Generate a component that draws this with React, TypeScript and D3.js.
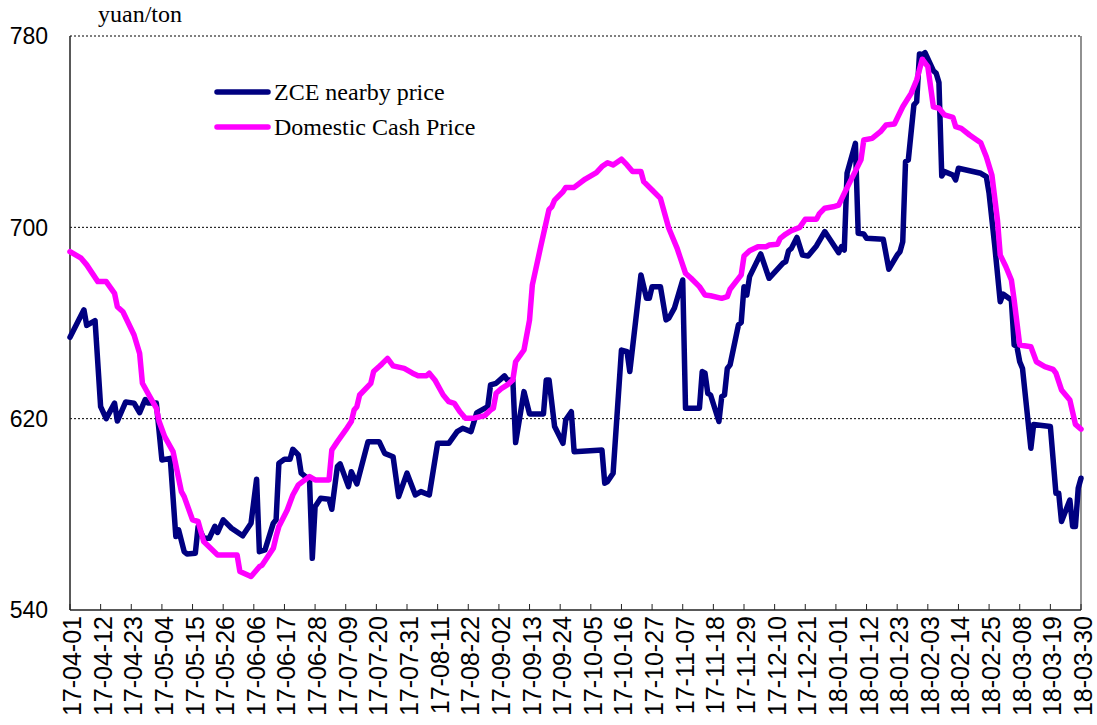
import React from "react";
import * as d3 from "d3";

const seriesNames = ["ZCE nearby price", "Domestic Cash Price"];
const unitLabel = "yuan/ton";
const yTicks = [540, 620, 700, 780];
const xTickLabels = [
  "17-04-01", "17-04-12", "17-04-23", "17-05-04", "17-05-15", "17-05-26", "17-06-06", "17-06-17",
  "17-06-28", "17-07-09", "17-07-20", "17-07-31", "17-08-11", "17-08-22", "17-09-02", "17-09-13",
  "17-09-24", "17-10-05", "17-10-16", "17-10-27", "17-11-07", "17-11-18", "17-11-29", "17-12-10",
  "17-12-21", "18-01-01", "18-01-12", "18-01-23", "18-02-03", "18-02-14", "18-02-25", "18-03-08",
  "18-03-19", "18-03-30",
];

const zceDates = [
  "2017-04-01","2017-04-06","2017-04-07","2017-04-10","2017-04-12","2017-04-14","2017-04-17","2017-04-18",
  "2017-04-21","2017-04-24","2017-04-26","2017-04-28","2017-04-29","2017-05-02","2017-05-04","2017-05-07",
  "2017-05-09","2017-05-10","2017-05-12","2017-05-13","2017-05-16","2017-05-17","2017-05-19","2017-05-21",
  "2017-05-23","2017-05-24","2017-05-26","2017-05-29","2017-06-02","2017-06-05","2017-06-07","2017-06-08",
  "2017-06-10","2017-06-13","2017-06-14","2017-06-15","2017-06-17","2017-06-19","2017-06-20","2017-06-22",
  "2017-06-23","2017-06-26","2017-06-27","2017-06-28","2017-06-30","2017-07-03","2017-07-04","2017-07-06",
  "2017-07-07","2017-07-10","2017-07-11","2017-07-13","2017-07-17","2017-07-21","2017-07-23","2017-07-26",
  "2017-07-28","2017-07-31","2017-08-03","2017-08-05","2017-08-08","2017-08-11","2017-08-15","2017-08-18",
  "2017-08-20","2017-08-23","2017-08-25","2017-08-29","2017-08-30","2017-09-01","2017-09-04","2017-09-05",
  "2017-09-07","2017-09-08","2017-09-11","2017-09-13","2017-09-18","2017-09-19","2017-09-20","2017-09-22",
  "2017-09-25","2017-09-26","2017-09-28","2017-09-29","2017-10-09","2017-10-10","2017-10-11","2017-10-13",
  "2017-10-16","2017-10-18","2017-10-19","2017-10-23","2017-10-25","2017-10-26","2017-10-27","2017-10-30",
  "2017-11-01","2017-11-02","2017-11-04","2017-11-07","2017-11-08","2017-11-13","2017-11-14","2017-11-15",
  "2017-11-16","2017-11-17","2017-11-20","2017-11-21","2017-11-22","2017-11-23","2017-11-24","2017-11-27",
  "2017-11-28","2017-11-29","2017-11-30","2017-12-01","2017-12-05","2017-12-08","2017-12-13","2017-12-14",
  "2017-12-15","2017-12-16","2017-12-18","2017-12-20","2017-12-22","2017-12-25","2017-12-28","2017-12-30",
  "2018-01-02","2018-01-03","2018-01-04","2018-01-05","2018-01-06","2018-01-08","2018-01-09","2018-01-11",
  "2018-01-12","2018-01-18","2018-01-20","2018-01-23","2018-01-24","2018-01-25","2018-01-26","2018-01-27",
  "2018-01-29","2018-01-30","2018-01-31","2018-02-01","2018-02-02","2018-02-05","2018-02-06","2018-02-07",
  "2018-02-08","2018-02-09","2018-02-12","2018-02-13","2018-02-14","2018-02-22","2018-02-24","2018-02-25",
  "2018-02-27","2018-03-01","2018-03-02","2018-03-05","2018-03-06","2018-03-07","2018-03-08","2018-03-09",
  "2018-03-12","2018-03-13","2018-03-19","2018-03-21","2018-03-22","2018-03-23","2018-03-26","2018-03-27",
  "2018-03-28","2018-03-29","2018-03-30",
];
const zcePrices = [
  654, 665.5, 659, 661, 625, 620, 626.5, 619,
  627, 626.5, 622.5, 628, 626.5, 626.5, 602.7, 603.4,
  570.7, 573.5, 564.4, 563.4, 563.7, 574.9, 570, 570,
  575, 572.4, 577.7, 574.2, 571, 576.3, 594.7, 564.4,
  565.1, 576.3, 577.7, 601.4, 603, 603, 607.2, 604.8,
  597.2, 594.4, 561.6, 583.2, 586.7, 586.3, 582.1, 600,
  601.1, 591.6, 597.8, 592.7, 610.4, 610.4, 605.5, 604.1,
  587.4, 597.2, 588.1, 589.5, 588.1, 609.7, 609.7, 614.6,
  616, 614.6, 622.4, 625, 634.1, 634.8, 637.9, 636.2,
  636.2, 610, 631.3, 622, 622, 636.2, 636.2, 616.7,
  609.7, 619.5, 622.9, 606.2, 606.9, 593, 593.7, 597.2,
  648.7, 648, 639.7, 680.1, 670.3, 670.3, 675.2, 675.2,
  661.3, 662, 666.2, 678, 624.4, 624.4, 639.7, 639,
  630.6, 629.9, 618.8, 629.2, 629.9, 641, 642.5, 659.2,
  660.2, 675.2, 671.7, 679.4, 688.9, 678.7, 685, 685.7,
  690.2, 691.2, 695.8, 688.4, 688, 692.2, 698.2, 694.7,
  689.4, 691.9, 690.5, 722.6, 726.8, 735.1, 697.5, 697.2,
  695.4, 695, 682.5, 688.4, 689.8, 694, 727.5, 728.2,
  751.2, 752.5, 772.5, 772.1, 773, 765.5, 764.4, 760.5,
  721.5, 723.3, 721.9, 719.8, 724.7, 722.6, 721.2, 714.2,
  692.6, 668.9, 672.1, 669.6, 650.8, 650.1, 643.8, 641,
  607.6, 617.6, 616.7, 588.8, 588.8, 577, 586, 574.9,
  574.9, 590.9, 595.1,
];

const cashDates = [
  "2017-04-01","2017-04-05","2017-04-07","2017-04-11","2017-04-14","2017-04-17","2017-04-18","2017-04-20",
  "2017-04-24","2017-04-26","2017-04-27","2017-04-30","2017-05-02","2017-05-03","2017-05-05","2017-05-08",
  "2017-05-11","2017-05-12","2017-05-15","2017-05-17","2017-05-19","2017-05-24","2017-05-31","2017-06-01",
  "2017-06-05","2017-06-08","2017-06-09","2017-06-13","2017-06-14","2017-06-15","2017-06-18","2017-06-20",
  "2017-06-22","2017-06-24","2017-06-26","2017-06-28","2017-07-03","2017-07-04","2017-07-06","2017-07-09",
  "2017-07-11","2017-07-12","2017-07-13","2017-07-14","2017-07-18","2017-07-19","2017-07-21","2017-07-22",
  "2017-07-24","2017-07-26","2017-07-30","2017-08-02","2017-08-04","2017-08-07","2017-08-08","2017-08-10",
  "2017-08-13","2017-08-15","2017-08-17","2017-08-19","2017-08-21","2017-08-24","2017-08-28","2017-08-30",
  "2017-08-31","2017-09-01","2017-09-03","2017-09-05","2017-09-07","2017-09-08","2017-09-11","2017-09-13",
  "2017-09-14","2017-09-17","2017-09-20","2017-09-21","2017-09-22","2017-09-25","2017-09-26","2017-09-29",
  "2017-10-03","2017-10-07","2017-10-09","2017-10-11","2017-10-13","2017-10-16","2017-10-18","2017-10-20",
  "2017-10-23","2017-10-24","2017-10-27","2017-10-30","2017-11-02","2017-11-05","2017-11-06","2017-11-08",
  "2017-11-10","2017-11-13","2017-11-15","2017-11-17","2017-11-21","2017-11-23","2017-11-24","2017-11-28",
  "2017-11-29","2017-12-01","2017-12-04","2017-12-07","2017-12-08","2017-12-11","2017-12-12","2017-12-14",
  "2017-12-16","2017-12-19","2017-12-21","2017-12-25","2017-12-26","2017-12-28","2017-12-31","2018-01-02",
  "2018-01-04","2018-01-07","2018-01-10","2018-01-11","2018-01-14","2018-01-17","2018-01-19","2018-01-22",
  "2018-01-25","2018-01-28","2018-01-30","2018-02-01","2018-02-03","2018-02-05","2018-02-07","2018-02-09",
  "2018-02-12","2018-02-13","2018-02-15","2018-02-18","2018-02-22","2018-02-24","2018-02-26","2018-02-28",
  "2018-03-01","2018-03-03","2018-03-05","2018-03-06","2018-03-08","2018-03-12","2018-03-14","2018-03-17",
  "2018-03-20","2018-03-21","2018-03-23","2018-03-26","2018-03-28","2018-03-30",
];
const cashPrices = [
  689.8, 687.1, 684.3, 677.3, 677.3, 672.4, 666.8, 664.7,
  655, 647.3, 634.8, 628.5, 624.4, 618.8, 612.5, 606.2,
  589.5, 587.4, 577.7, 577, 568.6, 563, 563, 556.1,
  554, 558.1, 558.8, 565.8, 570.7, 574.9, 581.8, 588.1,
  592.3, 594.1, 595.8, 594.4, 594.4, 606.9, 610.4, 615.3,
  618.8, 623.6, 625, 629.9, 634.8, 639.7, 641.8, 642.9,
  645.2, 642.1, 641, 639, 637.9, 637.9, 639, 636.2,
  629.9, 627.1, 626.4, 622.9, 620.2, 620.2, 621.3, 623.6,
  624.4, 630.6, 632.7, 634.1, 636.2, 643.8, 648.7, 661.3,
  675.9, 691.9, 707.5, 708.6, 711.4, 714.9, 716.7, 716.7,
  720.2, 722.9, 725.4, 727, 726.1, 728.5, 726.1, 723.3,
  723.3, 719.1, 715.6, 712.1, 699.6, 691.2, 687.7, 680.8,
  678.7, 675.2, 671.7, 671.4, 670.3, 671, 674.1, 680.1,
  688, 690.2, 691.9, 691.9, 692.6, 692.9, 695.4, 697.2,
  698.6, 700, 703.4, 703.4, 705.6, 708, 708.6, 709.3,
  714.2, 721.2, 728.2, 736.5, 737.2, 740, 742.8, 743.2,
  750.4, 756, 761.6, 770.3, 767.2, 750.4, 749.8, 747,
  746, 742.1, 741.4, 738.6, 735.4, 729.5, 721.9, 703.1,
  688.4, 683.6, 678, 669.6, 650.8, 650.1, 643.8, 641.8,
  640.6, 639, 632, 627.8, 617.6, 615.6,
];

const W = 1097;
const H = 725;
const plot = { left: 70, right: 1081, top: 36, bottom: 610 };
const colors = ["#000080", "#FF00FF"];

export default function App() {
  const parse = d3.utcParse("%Y-%m-%d");
  const x = d3
    .scaleUtc()
    .domain([parse("2017-04-01") as Date, parse("2018-03-30") as Date])
    .range([plot.left, plot.right]);
  const y = d3.scaleLinear().domain([540, 780]).range([plot.bottom, plot.top]);

  const zce = zceDates.map((d, i) => ({ date: parse(d) as Date, v: zcePrices[i] }));
  const cash = cashDates.map((d, i) => ({ date: parse(d) as Date, v: cashPrices[i] }));
  const line = d3
    .line<{ date: Date; v: number }>()
    .x((d) => x(d.date))
    .y((d) => y(d.v));

  const ticks = xTickLabels.map((l) => ({ label: l, date: parse("20" + l) as Date }));

  return (
    <svg
      width={W}
      height={H}
      viewBox={`0 0 ${W} ${H}`}
      style={{ position: "absolute", left: 0, top: 0, background: "#fff" }}
    >
      <rect x={0} y={0} width={W} height={H} fill="#fff" />
      {yTicks
        .filter((t) => t !== 540)
        .map((t) => (
          <line
            key={"g" + t}
            x1={plot.left}
            x2={plot.right}
            y1={y(t)}
            y2={y(t)}
            stroke="#000"
            strokeWidth={1}
            strokeDasharray="2,2"
          />
        ))}
      <line x1={plot.right} x2={plot.right} y1={plot.top} y2={plot.bottom} stroke="#555" strokeWidth={1.3} />
      <line x1={plot.left} x2={plot.left} y1={plot.top} y2={plot.bottom} stroke="#222" strokeWidth={1.5} />
      <line x1={plot.left} x2={plot.right} y1={plot.bottom} y2={plot.bottom} stroke="#222" strokeWidth={1.5} />
      {ticks.map((t) => (
        <line
          key={"t" + t.label}
          x1={x(t.date)}
          x2={x(t.date)}
          y1={plot.bottom}
          y2={plot.bottom - 6}
          stroke="#222"
          strokeWidth={1}
        />
      ))}
      {yTicks.map((t) => (
        <text
          key={"yl" + t}
          x={48}
          y={y(t)}
          dy="0.36em"
          textAnchor="end"
          fontFamily="'Liberation Sans', Arial, sans-serif"
          fontSize={23}
          fill="#000"
        >
          {t}
        </text>
      ))}
      {ticks.map((t) => (
        <text
          key={"xl" + t.label}
          transform={`translate(${x(t.date) + 2},${plot.bottom + 6}) rotate(-90)`}
          dy="0.36em"
          textAnchor="end"
          fontFamily="'Liberation Sans', Arial, sans-serif"
          fontSize={25}
          fill="#000"
        >
          {t.label}
        </text>
      ))}
      <text x={98} y={22} fontFamily="'Liberation Serif', 'Times New Roman', serif" fontSize={24} fill="#000">
        {unitLabel}
      </text>
      <path d={line(zce) || ""} fill="none" stroke={colors[0]} strokeWidth={5.5} strokeLinejoin="round" strokeLinecap="round" />
      <path d={line(cash) || ""} fill="none" stroke={colors[1]} strokeWidth={5.5} strokeLinejoin="round" strokeLinecap="round" />
      {seriesNames.map((n, i) => (
        <g key={n}>
          <line
            x1={217}
            x2={268}
            y1={92 + i * 35}
            y2={92 + i * 35}
            stroke={colors[i]}
            strokeWidth={5.5}
            strokeLinecap="round"
          />
          <text
            x={274}
            y={100 + i * 35}
            fontFamily="'Liberation Serif', 'Times New Roman', serif"
            fontSize={24}
            fill="#000"
          >
            {n}
          </text>
        </g>
      ))}
    </svg>
  );
}
